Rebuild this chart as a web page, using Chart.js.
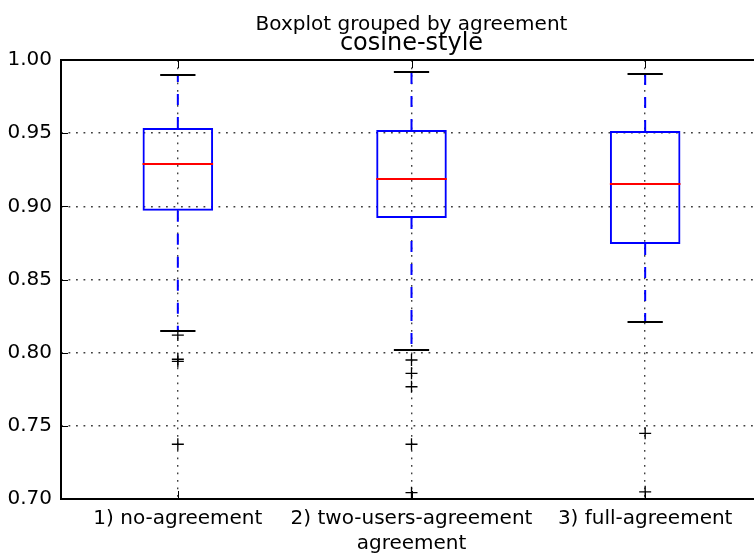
<!DOCTYPE html>
<html>
<head>
<meta charset="utf-8">
<script src="https://cdn.jsdelivr.net/npm/chart.js@4/dist/chart.umd.min.js"></script>
<style>
  html, body { margin: 0; padding: 0; background: #fff; overflow: hidden; }
  canvas { display: block; }
</style>
</head>
<body>
<canvas id="grafico" width="770" height="556"></canvas>
<script>
// ===============================
// DADOS
// ===============================

const categorias = ["1) no-agreement", "2) two-users-agreement", "3) full-agreement"];
const bigodeInferior = [0.8148, 0.8018, 0.8208];
const quartil1 = [0.8970, 0.8920, 0.8743];
const mediana = [0.9287, 0.9187, 0.9153];
const quartil3 = [0.9535, 0.9522, 0.9515];
const bigodeSuperior = [0.9898, 0.9918, 0.9904];
const outliers = [
    [0.8120, 0.7955, 0.7940, 0.7374],
    [0.7950, 0.7859, 0.7767, 0.7374, 0.7043],
    [0.7449, 0.7049]
];
const ticksY = [0.70, 0.75, 0.80, 0.85, 0.90, 0.95, 1.00];

const supTitulo = "Boxplot grouped by agreement";
const titulo = "cosine-style";
const tituloX = "agreement";

const FONTE = "'DejaVu Sans', sans-serif";

// ===============================
// PLUGINS
// ===============================

const caixaPlugin = {
    id: "caixa",
    afterDatasetsDraw(chart) {
        const { ctx, scales: { x, y } } = chart;
        const meta = chart.getDatasetMeta(0);
        ctx.save();
        categorias.forEach((c, i) => {
            const cx = x.getPixelForValue(i);
            const larg = meta.data[i].width;
            const capa = larg / 2;

            // bigodes
            ctx.strokeStyle = "#0000ff";
            ctx.lineWidth = 2;
            ctx.setLineDash([11, 12]);
            ctx.beginPath();
            ctx.moveTo(cx, y.getPixelForValue(quartil3[i]));
            ctx.lineTo(cx, y.getPixelForValue(bigodeSuperior[i]));
            ctx.moveTo(cx, y.getPixelForValue(quartil1[i]));
            ctx.lineTo(cx, y.getPixelForValue(bigodeInferior[i]));
            ctx.stroke();
            ctx.setLineDash([]);

            // tampas
            ctx.strokeStyle = "#000";
            ctx.lineWidth = 2;
            ctx.beginPath();
            [bigodeSuperior[i], bigodeInferior[i]].forEach(v => {
                const py = Math.round(y.getPixelForValue(v));
                ctx.moveTo(cx - capa / 2, py);
                ctx.lineTo(cx + capa / 2, py);
            });
            ctx.stroke();

            // mediana
            ctx.strokeStyle = "#ff0000";
            ctx.beginPath();
            const pm = Math.round(y.getPixelForValue(mediana[i]));
            ctx.moveTo(cx - larg / 2, pm);
            ctx.lineTo(cx + larg / 2, pm);
            ctx.stroke();
        });
        ctx.restore();
    },
    afterDraw(chart) {
        const { ctx, chartArea: a, scales: { x, y } } = chart;
        ctx.save();

        // ticks para dentro
        ctx.strokeStyle = "#000";
        ctx.lineWidth = 1;
        ctx.beginPath();
        ticksY.forEach(v => {
            const py = Math.round(y.getPixelForValue(v)) + 0.5;
            ctx.moveTo(a.left, py); ctx.lineTo(a.left + 7, py);
            ctx.moveTo(a.right, py); ctx.lineTo(a.right - 7, py);
        });
        categorias.forEach((c, i) => {
            const px = Math.round(x.getPixelForValue(i)) + 0.5;
            ctx.moveTo(px, a.bottom); ctx.lineTo(px, a.bottom - 8);
            ctx.moveTo(px, a.top); ctx.lineTo(px, a.top + 8);
        });
        ctx.stroke();

        // moldura
        ctx.lineWidth = 2;
        ctx.strokeRect(a.left, a.top, a.right - a.left, a.bottom - a.top);

        // títulos
        const cx = (a.left + a.right) / 2;
        ctx.fillStyle = "#000";
        ctx.textAlign = "center";
        ctx.textBaseline = "alphabetic";
        ctx.font = "20px " + FONTE;
        ctx.fillText(supTitulo, cx, 30);
        ctx.font = "24px " + FONTE;
        ctx.fillText(titulo, cx, 50);
        ctx.restore();
    }
};

// ===============================
// GRÁFICO
// ===============================

const pontosOutliers = [];
outliers.forEach((lista, i) => {
    lista.forEach(v => pontosOutliers.push({ x: categorias[i], y: v }));
});

new Chart(document.getElementById("grafico"), {
    type: "bar",
    data: {
        labels: categorias,
        datasets: [
            {
                label: "caixas",
                data: categorias.map((c, i) => [quartil1[i], quartil3[i]]),
                backgroundColor: "rgba(0,0,0,0)",
                borderColor: "#0000ff",
                borderWidth: 2,
                borderSkipped: false,
                categoryPercentage: 1,
                barPercentage: 0.302
            },
            {
                type: "line",
                label: "outliers",
                data: pontosOutliers,
                showLine: false,
                pointStyle: "cross",
                pointRadius: 6,
                pointBorderWidth: 1.3,
                pointBorderColor: "#000",
                pointBackgroundColor: "#000"
            }
        ]
    },
    options: {
        responsive: false,
        animation: false,
        devicePixelRatio: 1,
        layout: { padding: { top: 60, right: 8, left: 0, bottom: 0 } },
        plugins: {
            legend: { display: false },
            tooltip: { enabled: false }
        },
        scales: {
            x: {
                type: "category",
                offset: true,
                grid: {
                    offset: false,
                    drawTicks: false,
                    color: "rgba(0,0,0,0.75)",
                    lineWidth: 1.4
                },
                border: { display: false, dash: [1.8, 5.7] },
                ticks: {
                    color: "#000",
                    padding: 8,
                    autoSkip: false,
                    maxRotation: 0,
                    minRotation: 0,
                    font: { family: FONTE, size: 20 }
                },
                title: {
                    display: true,
                    text: tituloX,
                    color: "#000",
                    padding: { top: -3, bottom: 0 },
                    font: { family: FONTE, size: 20 }
                },
                afterFit(scale) {
                    scale.height = 57;
                    scale.paddingLeft = 0;
                    scale.paddingRight = 0;
                }
            },
            y: {
                min: 0.7,
                max: 1.0,
                afterBuildTicks(scale) { scale.ticks = ticksY.map(v => ({ value: v })); },
                grid: {
                    drawTicks: false,
                    color: "rgba(0,0,0,0.75)",
                    lineWidth: 1.4
                },
                border: { display: false, dash: [1.8, 5.7] },
                ticks: {
                    color: "#000",
                    padding: 9,
                    font: { family: FONTE, size: 20 },
                    callback: v => v.toFixed(2)
                },
                afterFit(scale) {
                    scale.width = 61;
                    scale.paddingTop = 0;
                    scale.paddingBottom = 0;
                }
            }
        }
    },
    plugins: [caixaPlugin]
});
</script>
</body>
</html>
